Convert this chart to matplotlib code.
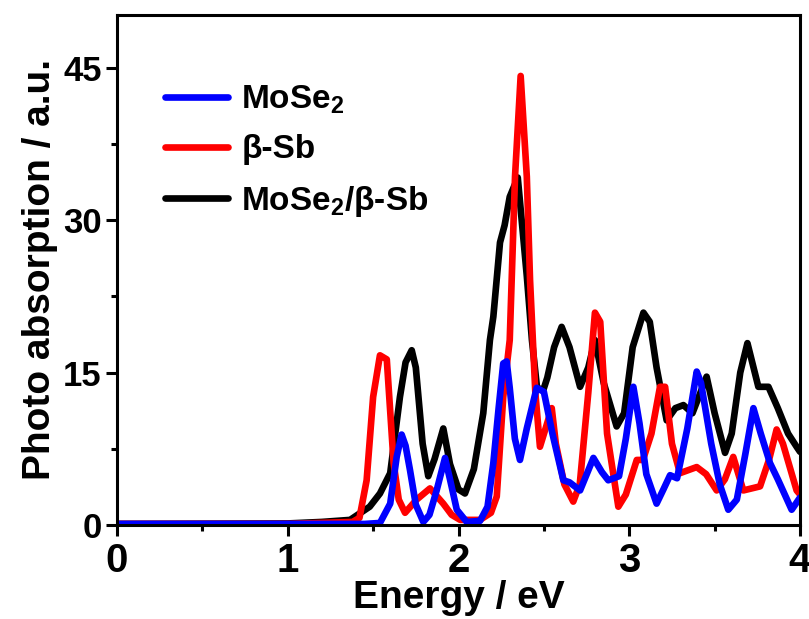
import matplotlib
matplotlib.use("Agg")
import matplotlib.pyplot as plt
from matplotlib.ticker import MultipleLocator

plt.rcParams['font.family'] = ['Liberation Sans', 'DejaVu Sans']
plt.rcParams['font.weight'] = 'bold'
plt.rcParams['mathtext.fontset'] = 'custom'
plt.rcParams['mathtext.rm'] = 'Liberation Sans:bold'
plt.rcParams['mathtext.bf'] = 'Liberation Sans:bold'

# ---------- data ----------
e_mose2 = [0, 1.0, 1.45, 1.54, 1.60, 1.638, 1.667, 1.69, 1.716, 1.75, 1.794, 1.83,
           1.872, 1.921, 1.95, 1.99, 2.048, 2.126, 2.17, 2.204, 2.235, 2.262, 2.282,
           2.30, 2.33, 2.36, 2.40, 2.458, 2.50, 2.55, 2.614, 2.65, 2.712, 2.79, 2.84,
           2.877, 2.94, 2.98, 3.024, 3.06, 3.10, 3.16, 3.20, 3.239, 3.28, 3.34, 3.395,
           3.42, 3.48, 3.53, 3.58, 3.63, 3.68, 3.727, 3.77, 3.824, 3.87, 3.951, 4.0]
a_mose2 = [0.1, 0.1, 0.1, 0.2, 2.1, 6.7, 8.9, 7.8, 5.4, 2.0, 0.3, 1.0,
           3.4, 6.6, 4.5, 1.5, 0.3, 0.4, 1.8, 6.1, 11.5, 15.9, 16.1,
           13.5, 8.5, 6.4, 9.5, 13.5, 13.1, 9.0, 4.4, 4.2, 3.4, 6.6, 5.2,
           4.4, 4.8, 8.5, 13.6, 10.0, 5.0, 2.1, 3.5, 4.9, 4.6, 9.5, 15.1,
           14.0, 8.0, 4.0, 1.5, 2.5, 7.0, 11.5, 9.0, 6.1, 4.5, 1.5, 2.7]

e_sb = [0, 1.0, 1.38, 1.42, 1.462, 1.50, 1.54, 1.58, 1.62, 1.65, 1.687, 1.755, 1.833,
        1.911, 1.96, 2.01, 2.126, 2.19, 2.224, 2.262, 2.30, 2.331, 2.364, 2.40, 2.419,
        2.45, 2.477, 2.51, 2.546, 2.57, 2.62, 2.672, 2.71, 2.76, 2.799, 2.83, 2.87,
        2.936, 2.98, 3.044, 3.08, 3.13, 3.18, 3.21, 3.25, 3.297, 3.395, 3.45, 3.512,
        3.56, 3.609, 3.668, 3.766, 3.82, 3.863, 3.90, 3.98, 4.0]
a_sb = [0.1, 0.1, 0.3, 0.7, 4.4, 12.6, 16.7, 16.3, 6.1, 2.5, 1.2, 2.5, 3.6,
        2.1, 1.0, 0.5, 0.5, 1.2, 2.8, 12.6, 18.2, 34.3, 44.2, 34.3, 24.1,
        13.0, 7.7, 9.5, 11.5, 8.0, 4.0, 2.3, 4.0, 13.0, 20.9, 20.0, 9.0,
        1.8, 3.0, 6.4, 6.4, 9.0, 13.6, 13.6, 8.0, 5.1, 5.7, 5.0, 3.4,
        4.5, 6.7, 3.4, 3.8, 6.5, 9.4, 8.0, 3.4, 3.0]

e_het = [0, 1.0, 1.2, 1.365, 1.48, 1.54, 1.6, 1.657, 1.69, 1.726, 1.75, 1.79, 1.823,
         1.86, 1.911, 1.95, 2.0, 2.038, 2.09, 2.145, 2.184, 2.204, 2.243, 2.27, 2.30,
         2.347, 2.37, 2.40, 2.43, 2.46, 2.497, 2.52, 2.56, 2.604, 2.65, 2.712, 2.76,
         2.799, 2.85, 2.926, 2.97, 3.02, 3.083, 3.12, 3.16, 3.219, 3.27, 3.317, 3.37,
         3.453, 3.50, 3.561, 3.60, 3.65, 3.692, 3.756, 3.815, 3.87, 3.93, 3.98, 4.0]
a_het = [0.1, 0.15, 0.3, 0.5, 1.8, 3.1, 5.1, 12.6, 16.0, 17.2, 15.5, 8.0, 4.8,
         6.5, 9.5, 6.0, 3.5, 3.1, 5.5, 11.0, 18.2, 20.5, 27.8, 29.5, 32.3,
         34.2, 30.0, 24.5, 18.2, 13.5, 13.3, 14.5, 17.5, 19.5, 17.5, 13.6, 15.5,
         18.2, 14.0, 9.7, 11.0, 17.5, 20.9, 20.0, 15.5, 10.3, 11.5, 11.8, 11.0,
         14.6, 11.0, 7.1, 9.0, 15.0, 17.9, 13.6, 13.6, 11.5, 9.0, 7.7, 7.2]

labels = ['MoSe$_\\mathbf{2}$', 'β-Sb', 'MoSe$_\\mathbf{2}$/β-Sb']
colors = ['#0000ff', '#ff0000', '#000000']

# ---------- plot ----------
fig = plt.figure(figsize=(8.09, 6.19), dpi=100)
ax = fig.add_axes([0.1446, 0.1519, 0.8443, 0.8239])

kw = dict(lw=4.8, solid_joinstyle='round', solid_capstyle='round')
l3, = ax.plot(e_het, a_het, color=colors[2], label=labels[2], **kw)
l2, = ax.plot(e_sb, a_sb, color=colors[1], label=labels[1], **kw)
l1, = ax.plot(e_mose2, a_mose2, color=colors[0], label=labels[0], **kw)

ax.set_xlim(0, 4)
ax.set_ylim(0, 50.2)
ax.xaxis.set_major_locator(MultipleLocator(1))
ax.xaxis.set_minor_locator(MultipleLocator(0.5))
ax.yaxis.set_major_locator(MultipleLocator(15))
ax.yaxis.set_minor_locator(MultipleLocator(7.5))

for s in ax.spines.values():
    s.set_linewidth(2.2)
ax.tick_params(which='major', direction='out', length=8, width=2.2, pad=3)
ax.tick_params(which='minor', direction='out', length=4, width=2.2)
ax.tick_params(axis='x', labelsize=29, pad=4)
ax.tick_params(axis='y', labelsize=25)
for t in ax.get_xticklabels() + ax.get_yticklabels():
    t.set_fontweight('bold')

ax.set_xlabel('Energy / eV', fontsize=28, fontweight='bold', labelpad=0)
ax.set_ylabel('Photo absorption / a.u.', fontsize=28, fontweight='bold', labelpad=4)

leg = ax.legend(handles=[l1, l2, l3], loc='upper left', bbox_to_anchor=(0.07, 0.866),
                frameon=False, fontsize=24, handlelength=1.9, handletextpad=0.4,
                labelspacing=0.55, borderpad=0, borderaxespad=0)
for t in leg.get_texts():
    t.set_fontweight('bold')

fig.savefig('out.png', dpi=100)
